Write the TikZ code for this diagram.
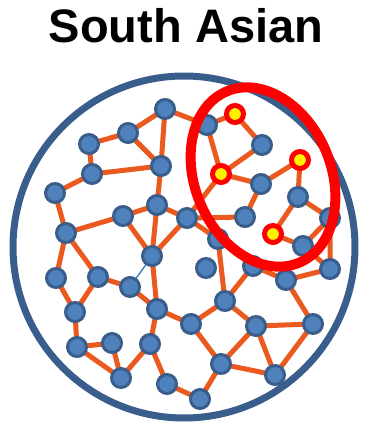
\documentclass[tikz,border=0pt]{standalone}
\usepackage{fontspec}
\setmainfont{Liberation Sans}
\usetikzlibrary{backgrounds}

\definecolor{ringblue}{HTML}{3A5E8C}
\definecolor{dotblue}{HTML}{4F81BD}
\definecolor{linkorange}{HTML}{EA5A1E}

\begin{document}
\begin{tikzpicture}[
    x=1pt, y=-1pt,
    base/.style={circle, inner sep=0pt},
    person/.style={base, fill=dotblue, draw=ringblue, line width=3pt, minimum size=19pt},
    picked/.style={base, fill=yellow, draw=red, line width=5pt, minimum size=17pt},
    link/.style={draw=linkorange, line width=5pt},
    weak/.style={draw=dotblue, line width=1.5pt}
]
    \useasboundingbox (0,0) rectangle (368,432);

    % --- TITLE ---
    \node (title) [anchor=base, font=\bfseries\fontsize{47}{50}\selectfont] at (186,42) {South Asian};

    % --- POPULATION BORDER ---
    \node (pop) [circle, draw=ringblue, line width=7pt, minimum size=342pt, inner sep=0pt] at (184,247) {};

    % --- MEMBERS ---
    \node (a) [person] at (165,109) {};
    \node (b) [person] at (128,133) {};
    \node (c) [person] at (89,144) {};
    \node (d) [person] at (161,166) {};
    \node (e) [person] at (92,174) {};
    \node (f) [person] at (55,193) {};
    \node (g) [person] at (157,205) {};
    \node (h) [person] at (123,216) {};
    \node (i) [person] at (66,233) {};
    \node (j) [person] at (187,218) {};
    \node (k) [person] at (152,256) {};
    \node (l) [person] at (207,125) {};
    \node (m) [person] at (262,145) {};
    \node (n) [person] at (261,184) {};
    \node (o) [person] at (298,197) {};
    \node (p) [person] at (245,217) {};
    \node (r) [person] at (330,218) {};
    \node (s) [person] at (303,246) {};
    \node (t) [person] at (218,239) {};
    \node (u) [person] at (206,268) {};
    \node (v) [person] at (253,266) {};
    \node (w) [person] at (330,269) {};
    \node (x) [person] at (286,280) {};
    \node (q1) [person] at (56,278) {};
    \node (q2) [person] at (98,277) {};
    \node (q3) [person] at (130,287) {};
    \node (q4) [person] at (75,312) {};
    \node (q5) [person] at (157,309) {};
    \node (q6) [person] at (77,347) {};
    \node (q7) [person] at (112,343) {};
    \node (q8) [person] at (150,344) {};
    \node (q9) [person] at (121,378) {};
    \node (q10) [person] at (167,384) {};
    \node (z1) [person] at (225,301) {};
    \node (z2) [person] at (191,324) {};
    \node (z3) [person] at (256,326) {};
    \node (z4) [person] at (313,324) {};
    \node (z5) [person] at (221,364) {};
    \node (z6) [person] at (275,375) {};
    \node (z7) [person] at (200,399) {};

    % --- PICKED MEMBERS ---
    \node (y1) [picked] at (235,114) {};
    \node (y2) [picked] at (221,174) {};
    \node (y3) [picked] at (300,160) {};
    \node (y4) [picked] at (273,234) {};

    % --- LINKS (behind the members) ---
    \begin{scope}[on background layer]
    % upper left
    \draw [link] (a.center) -- (b.center) -- (c.center) -- (e.center) -- (d.center) -- (a.center) -- (l.center);
    \draw [link] (b.center) -- (d.center) -- (g.center) -- (h.center) -- (i.center) -- (f.center) -- (e.center);
    \draw [link] (g.center) -- (j.center) -- (k.center) -- (g.center);
    \draw [link] (h.center) -- (k.center) -- (q5.center);
    % upper right
    \draw [link] (l.center) -- (y1.center) -- (m.center) -- (y2.center) -- (l.center);
    \draw [link] (y2.center) -- (n.center) -- (y3.center) -- (o.center) -- (r.center) -- (s.center) -- (y4.center) -- (o.center);
    \draw [link] (n.center) -- (p.center) -- (j.center) -- (y2.center);
    \draw [link] (j.center) -- (t.center) -- (z1.center) -- (v.center) -- (x.center) -- (w.center) -- (r.center);
    \draw [link] (s.center) -- (w.center);
    % lower left
    \draw [link] (i.center) -- (q1.center) -- (q4.center) -- (q2.center) -- (i.center);
    \draw [link] (q2.center) -- (q3.center) -- (q5.center) -- (q8.center) -- (q10.center) -- (z7.center);
    \draw [link] (q4.center) -- (q6.center) -- (q7.center) -- (q9.center) -- (q6.center);
    \draw [link] (q9.center) -- (q8.center);
    \draw [weak] (k.center) -- (q3.center);
    % lower right
    \draw [link] (q5.center) -- (z2.center) -- (z1.center) -- (z3.center) -- (z4.center) -- (x.center);
    \draw [link] (z2.center) -- (z5.center) -- (z3.center) -- (z6.center) -- (z4.center);
    \draw [link] (z5.center) -- (z6.center);
    \draw [link] (z5.center) -- (z7.center);
    \end{scope}

    % --- HIGHLIGHTED GROUP ---
    \draw [red, line width=10pt, shift={(263,177)}, rotate=23] (0,0) ellipse [x radius=68, y radius=93];

\end{tikzpicture}
\end{document}
